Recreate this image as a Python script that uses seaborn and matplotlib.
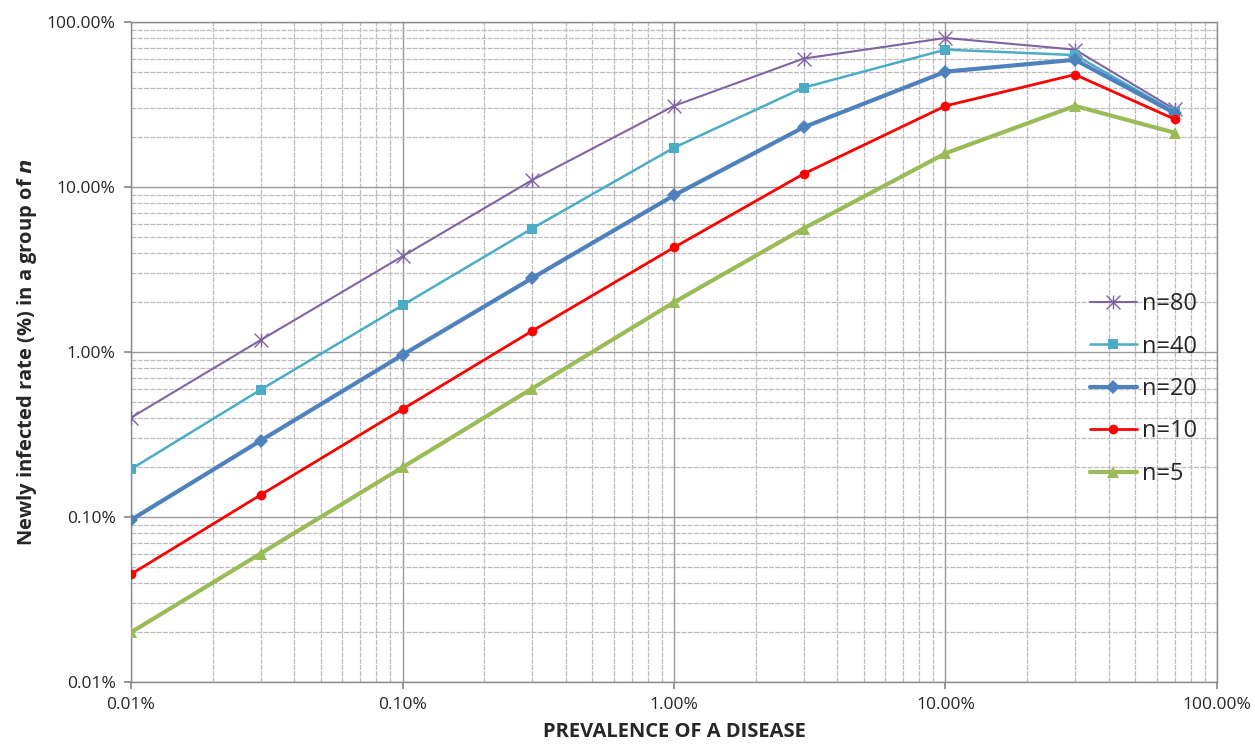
import matplotlib
matplotlib.use("Agg")
import matplotlib.pyplot as plt
import matplotlib.ticker as mticker
from matplotlib.path import Path
import pandas as pd
import seaborn as sns

# prevalence (%) and newly infected rate (%) per group size n
prevalence = [0.01, 0.03, 0.1, 0.3, 1, 3, 10, 30, 70]
rate_n80 = [0.40, 1.18, 3.8, 11.0, 31.0, 60.0, 80.0, 68.0, 29.5]
rate_n40 = [0.195, 0.59, 1.92, 5.6, 17.3, 40.0, 68.0, 63.0, 28.5]
rate_n20 = [0.096, 0.29, 0.96, 2.8, 8.9, 23.0, 50.0, 59.0, 28.0]
rate_n10 = [0.045, 0.136, 0.45, 1.34, 4.3, 12.0, 31.0, 48.0, 25.7]
rate_n5 = [0.020, 0.060, 0.20, 0.60, 2.0, 5.6, 16.0, 31.0, 21.3]

series = {"n=80": rate_n80, "n=40": rate_n40, "n=20": rate_n20,
          "n=10": rate_n10, "n=5": rate_n5}
rows = [(lab, x, y) for lab, vals in series.items() for x, y in zip(prevalence, vals)]
df = pd.DataFrame(rows, columns=["group", "prevalence", "rate"])

# excel-style "star" marker: an x with a vertical stroke
star = Path([(-1, -1), (1, 1), (-1, 1), (1, -1), (0, -1), (0, 1)],
            [Path.MOVETO, Path.LINETO, Path.MOVETO, Path.LINETO, Path.MOVETO, Path.LINETO])

styles = {
    "n=80": dict(color="#8064A2", lw=1.5, marker=star, ms=10, mew=1.0),
    "n=40": dict(color="#4BACC6", lw=1.8, marker="s", ms=7, mew=0),
    "n=20": dict(color="#4F81BD", lw=3.0, marker="D", ms=7, mew=0),
    "n=10": dict(color="#FF0000", lw=2.0, marker="o", ms=7, mew=0),
    "n=5": dict(color="#9BBB59", lw=3.0, marker="^", ms=9, mew=0),
}

sns.set_theme(style="white")
plt.rcParams["font.family"] = ["Open Sans", "DejaVu Sans"]

fig = plt.figure(figsize=(12.55, 7.45), dpi=100)
ax = fig.add_axes([0.1044, 0.0846, 0.8653, 0.8859])

for lab in series:
    s = styles[lab]
    sns.lineplot(data=df[df["group"] == lab], x="prevalence", y="rate", ax=ax,
                 color=s["color"], linewidth=s["lw"], marker=s["marker"],
                 markersize=s["ms"], markeredgewidth=s["mew"],
                 markeredgecolor=s["color"], label=lab, zorder=3)

ax.set_xscale("log")
ax.set_yscale("log")
ax.set_xlim(0.01, 100)
ax.set_ylim(0.01, 100)

fmt = mticker.FuncFormatter(lambda v, _: f"{v:.2f}%")
ax.xaxis.set_major_formatter(fmt)
ax.yaxis.set_major_formatter(fmt)
for axis in (ax.xaxis, ax.yaxis):
    axis.set_major_locator(mticker.LogLocator(base=10, numticks=10))
    axis.set_minor_locator(mticker.LogLocator(base=10, subs=range(2, 10), numticks=10))
    axis.set_minor_formatter(mticker.NullFormatter())

ax.grid(which="major", color="#9a9a9a", linewidth=1.0)
ax.grid(which="minor", color="#bdbdbd", linewidth=0.9, linestyle=(0, (4, 1)))
ax.tick_params(which="major", direction="out", length=5, color="#8a8a8a",
               labelsize=12.5, left=True, bottom=True, pad=6)
ax.tick_params(which="minor", length=0)
for side in ("left", "bottom", "right", "top"):
    ax.spines[side].set_color("#8a8a8a")
    ax.spines[side].set_linewidth(1.0)

ax.set_xlabel("PREVALENCE OF A DISEASE", fontsize=14.5, fontweight="bold", labelpad=6)
ax.set_ylabel(r"Newly infected rate (%) in a group of $\boldsymbol{n}$", fontsize=14.5,
              fontweight="bold", labelpad=6)

leg = ax.legend(loc="upper left", bbox_to_anchor=(0.874, 0.605), frameon=False,
                fontsize=17, handlelength=2.0, handletextpad=0.2, labelspacing=0.78,
                borderaxespad=0)

fig.savefig("out.png", dpi=100)
